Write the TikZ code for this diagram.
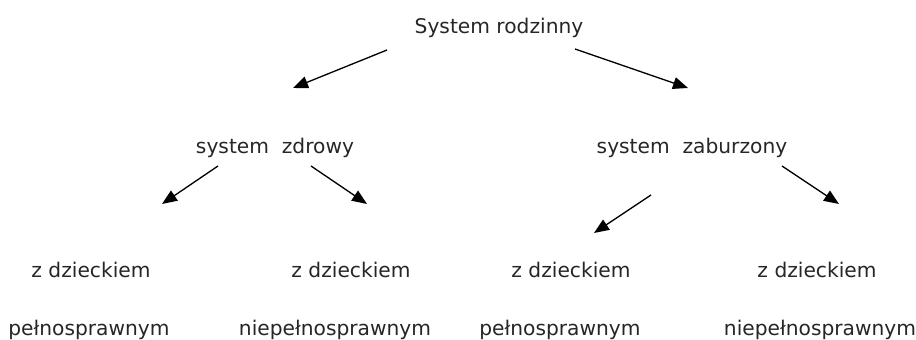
\documentclass[tikz,border=0pt]{standalone}
\usepackage{fontspec}
\setmainfont{DejaVu Sans}
\usetikzlibrary{arrows.meta}

\begin{document}
\begin{tikzpicture}[x=0.02cm, y=-0.02cm,
  label/.style={inner sep=0pt, font=\fontsize{11.5}{13}\selectfont, text=black!85},
  arrow/.style={-{Triangle[length=0.3cm, width=0.24cm]}, line width=0.75pt}]

\useasboundingbox (0,0) rectangle (916,340);

% root node

\node[label] (root) at (499, 28) {System rodzinny};

% middle nodes

\node[label] (zdr) at (275, 148) {system\ \ zdrowy};
\node[label] (zab) at (692, 148) {system\ \ zaburzony};

% leaf nodes

\node[label] (d0) at (91, 270) {z dzieckiem};
\node[label] (d1) at (351, 270) {z dzieckiem};
\node[label] (d2) at (571, 270) {z dzieckiem};
\node[label] (d3) at (817, 270) {z dzieckiem};

\node[label] (p0) at (89, 330) {pełnosprawnym};
\node[label] (p1) at (335, 330) {niepełnosprawnym};
\node[label] (p2) at (560, 330) {pełnosprawnym};
\node[label] (p3) at (820, 330) {niepełnosprawnym};

% arrow ends

\coordinate (r0) at (387, 50);
\coordinate (r1) at (575, 49);
\coordinate (m0) at (293, 88);
\coordinate (m1) at (688, 88);

\coordinate (z0) at (218, 166);
\coordinate (z1) at (311, 166);
\coordinate (z2) at (651, 195);
\coordinate (z3) at (782, 166);
\coordinate (l0) at (162, 204);
\coordinate (l1) at (367, 204);
\coordinate (l2) at (594, 233);
\coordinate (l3) at (839, 204);

% root to middle
\draw [arrow] (r0) -- (m0);
\draw [arrow] (r1) -- (m1);

% middle to leaves
\draw [arrow] (z0) -- (l0);
\draw [arrow] (z1) -- (l1);
\draw [arrow] (z2) -- (l2);
\draw [arrow] (z3) -- (l3);

\end{tikzpicture}
\end{document}
